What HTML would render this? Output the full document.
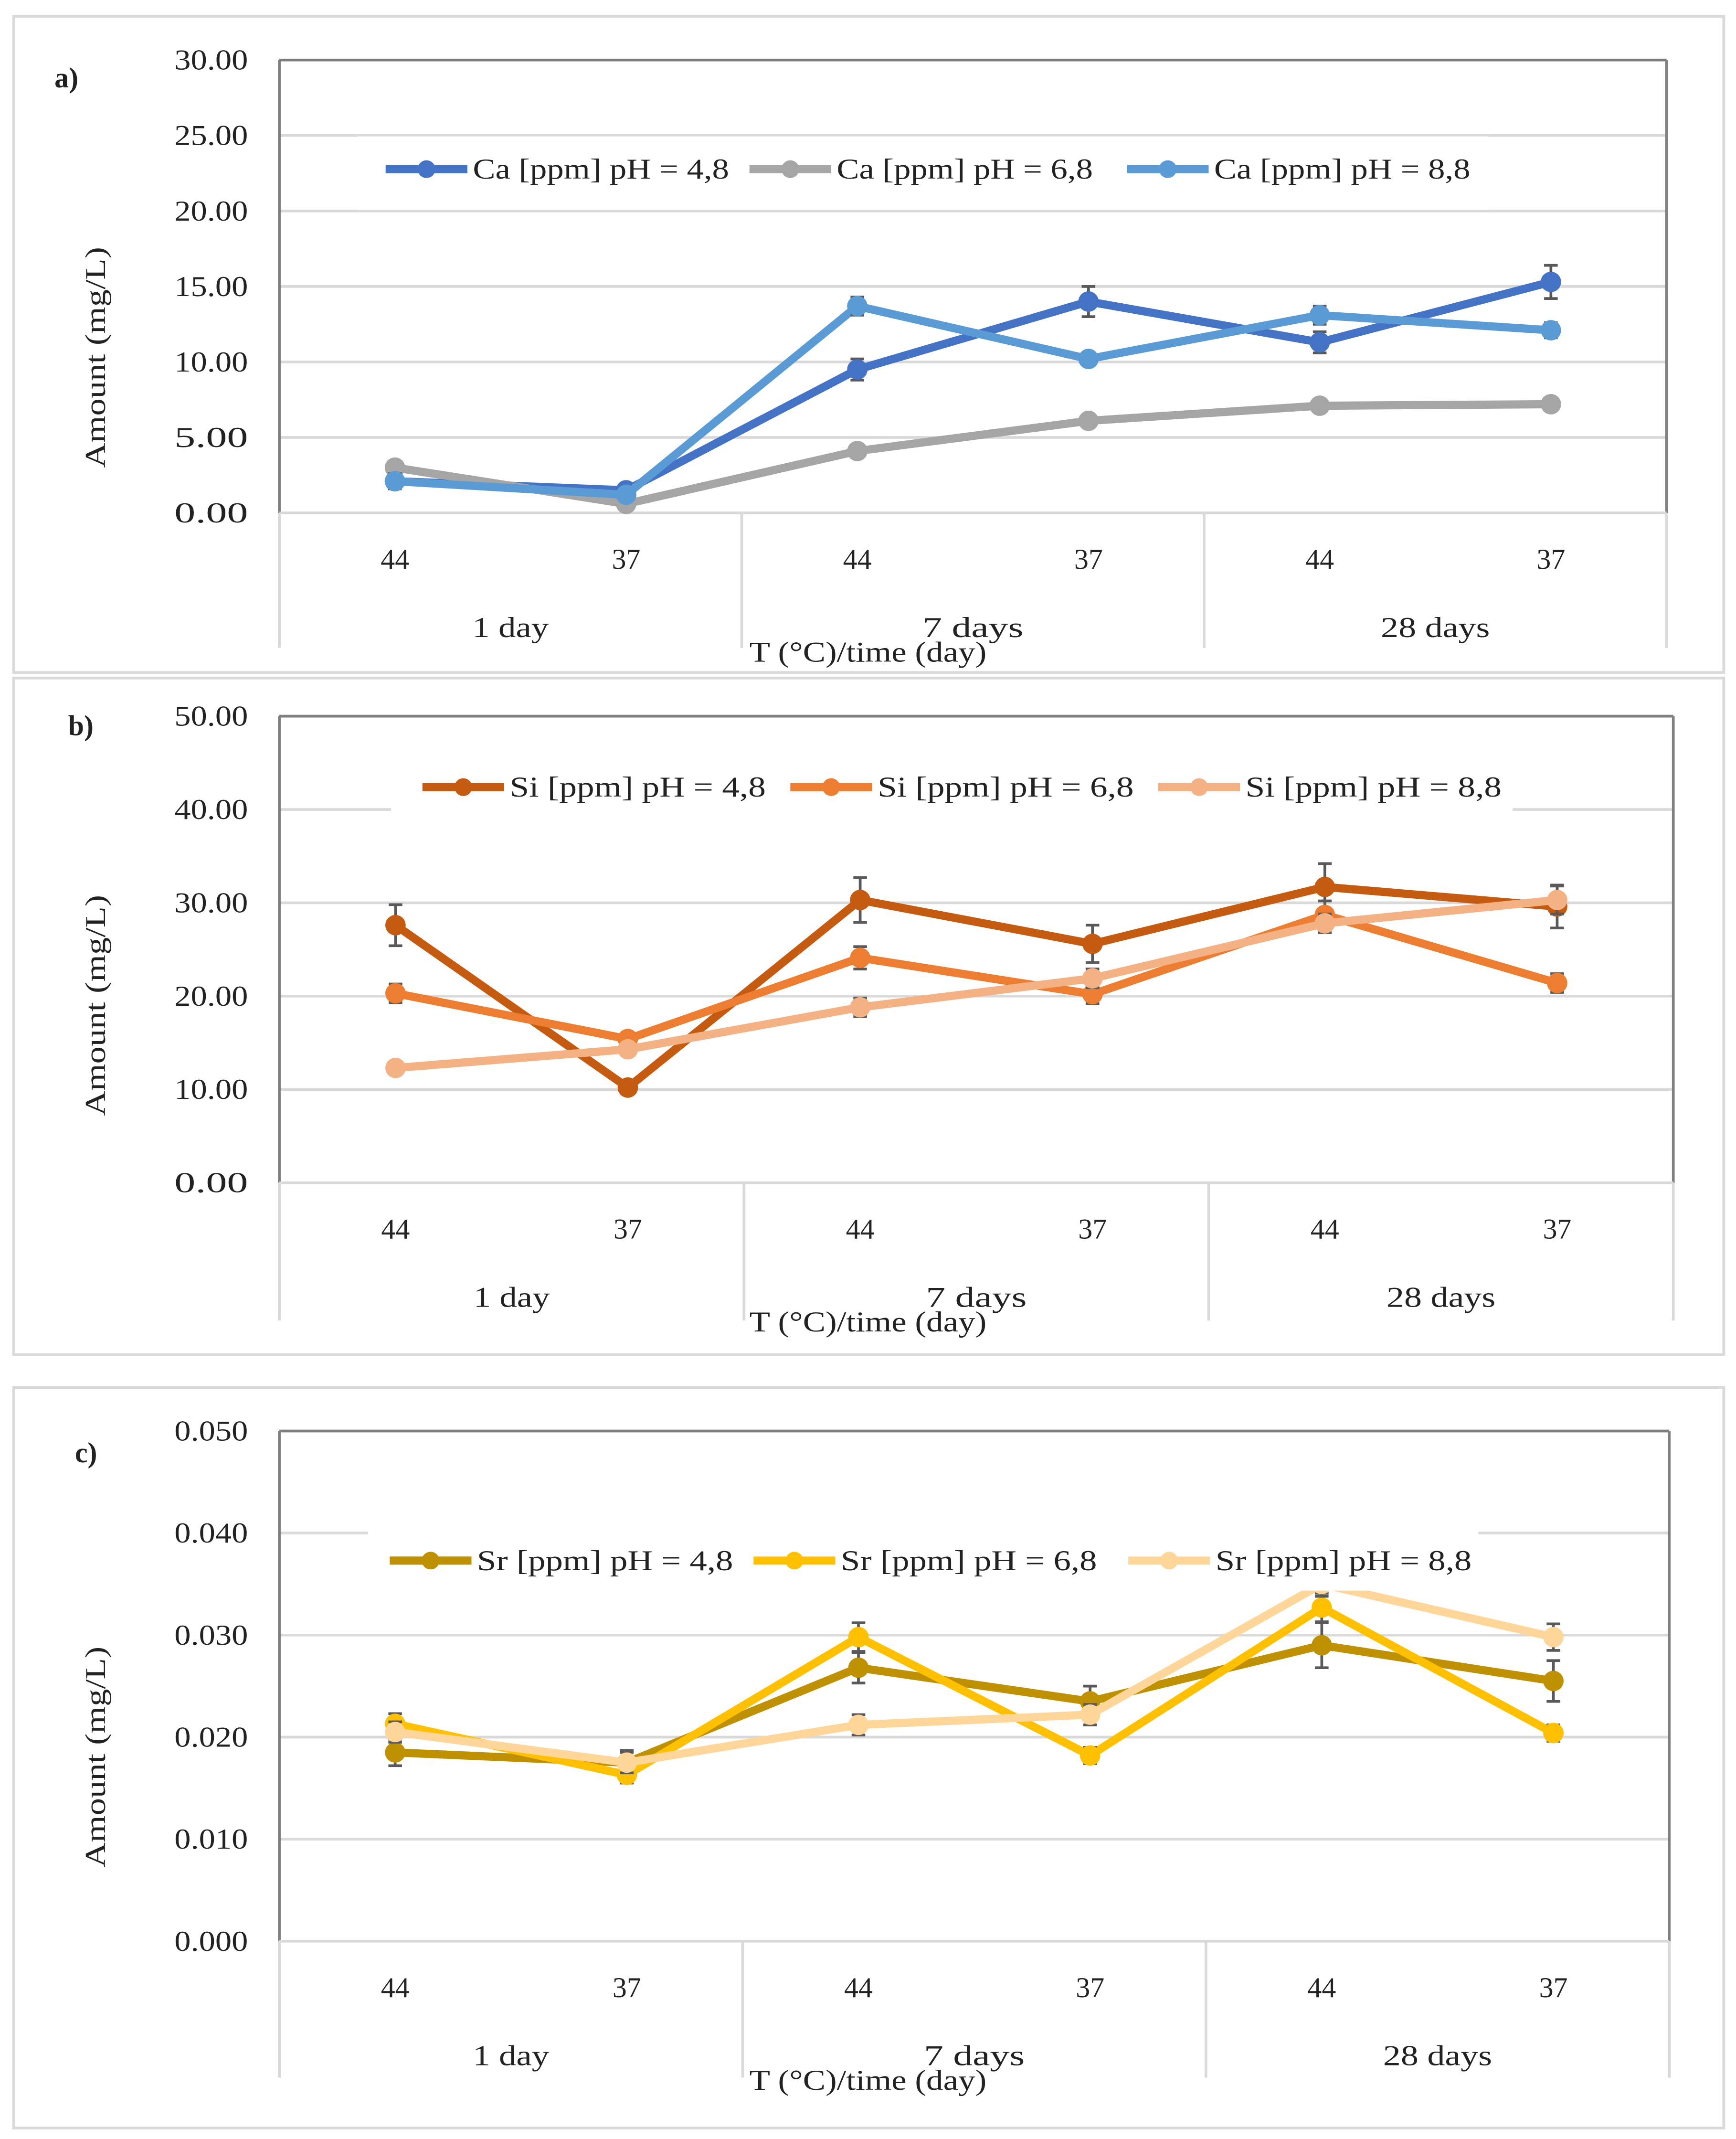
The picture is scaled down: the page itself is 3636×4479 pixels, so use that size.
<!DOCTYPE html>
<html><head><meta charset="utf-8">
<style>html,body{margin:0;padding:0;background:#fff}svg{display:block}text{font-family:"Liberation Serif",serif;fill:#222}</style>
</head><body>
<svg id="s" width="3636" height="4479" viewBox="0 0 1274 1568" preserveAspectRatio="none" xmlns="http://www.w3.org/2000/svg"></svg>
<script>
const catLabels=["44","37","44","37","44","37"];
const groupLabels=["1 day","7 days","28 days"];
const caNames=["Ca [ppm] pH = 4,8","Ca [ppm] pH = 6,8","Ca [ppm] pH = 8,8"];
const ca48=[2.1,1.5,9.5,14.0,11.3,15.3];
const ca48e=[0.5,0.4,0.7,1.0,0.7,1.1];
const ca68=[3.0,0.6,4.1,6.1,7.1,7.2];
const ca68e=[0.2,0.2,0.2,0.2,0.2,0.2];
const ca88=[2.1,1.2,13.7,10.2,13.1,12.1];
const ca88e=[0.5,0.3,0.6,0.4,0.6,0.5];
const caTicks=["0.00","5.00","10.00","15.00","20.00","25.00","30.00"];
const siNames=["Si [ppm] pH = 4,8","Si [ppm] pH = 6,8","Si [ppm] pH = 8,8"];
const si48=[27.6,10.2,30.3,25.6,31.7,29.6];
const si48e=[2.2,0.6,2.4,2.0,2.5,2.3];
const si68=[20.3,15.4,24.1,20.2,28.7,21.4];
const si68e=[1.0,0.6,1.2,1.0,1.5,1.0];
const si88=[12.3,14.3,18.8,21.9,27.8,30.3];
const si88e=[0.5,0.5,1.0,1.0,1.0,1.5];
const siTicks=["0.00","10.00","20.00","30.00","40.00","50.00"];
const srNames=["Sr [ppm] pH = 4,8","Sr [ppm] pH = 6,8","Sr [ppm] pH = 8,8"];
const sr48=[0.0185,0.0175,0.0268,0.0235,0.029,0.0255];
const sr48e=[0.0013,0.0012,0.0015,0.0015,0.0022,0.002];
const sr68=[0.0213,0.0163,0.0298,0.0182,0.0327,0.0204];
const sr68e=[0.001,0.0008,0.0014,0.0008,0.0014,0.0008];
const sr88=[0.0205,0.0175,0.0212,0.0222,0.035,0.0298];
const sr88e=[0.001,0.001,0.001,0.001,0.0012,0.0013];
const srTicks=["0.000","0.010","0.020","0.030","0.040","0.050"];

const NS="http://www.w3.org/2000/svg";
const svg=document.getElementById('s');
function el(tag,attrs,parent,txt){const e=document.createElementNS(NS,tag);for(const k in attrs)e.setAttribute(k,attrs[k]);if(txt!==undefined)e.textContent=txt;(parent||svg).appendChild(e);return e;}

function panel(cfg){
  const g=el('g',{});
  
  
  el('rect',{x:10,y:cfg.by0,width:1255,height:cfg.by1-cfg.by0,fill:'#fff',stroke:'#d9d9d9','stroke-width':2},g);
  const L=205,R=cfg.R,T=cfg.T,B=cfg.B;
  const ymax=cfg.max;
  const ys=v=>B-(v/ymax)*(B-T);
  const xs=i=>L+(R-L)*(i+0.5)/6;
  const nt=cfg.ticks.length;
  for(let i=0;i<nt;i++){
    const v=ymax*i/(nt-1),y=ys(v);
    if(i>0&&i<nt-1){const gl=el('line',{x1:L,x2:R,y1:y,y2:y,stroke:'#d9d9d9','stroke-width':2},g);}
    const t=el('text',{x:182,y:y+7,'text-anchor':'end','font-size':21,textLength:cfg.tw,lengthAdjust:'spacingAndGlyphs'},g,cfg.ticks[i]);
    
  }
  el('line',{x1:L,x2:R,y1:T,y2:T,stroke:'#7f7f7f','stroke-width':2},g);
  el('line',{x1:R,x2:R,y1:T,y2:B,stroke:'#7f7f7f','stroke-width':2},g);
  el('line',{x1:L,x2:L,y1:T,y2:B,stroke:'#7f7f7f','stroke-width':2},g);
  el('line',{x1:L,x2:R,y1:B,y2:B,stroke:'#d9d9d9','stroke-width':2},g);
  for(let k=0;k<4;k++){const x=L+(R-L)*k/3;el('line',{x1:x,x2:x,y1:B,y2:cfg.sepB,stroke:'#d9d9d9','stroke-width':2},g);}
  for(let i=0;i<6;i++){const t=el('text',{x:xs(i),y:B+41,'text-anchor':'middle','font-size':21},g,catLabels[i]);}
  const gw=[56,74,80];
  for(let k=0;k<3;k++){const t=el('text',{x:L+(R-L)*(k+0.5)/3,y:B+91,'text-anchor':'middle','font-size':21,textLength:gw[k],lengthAdjust:'spacingAndGlyphs'},g,groupLabels[k]);}
  const xt=el('text',{x:637,y:B+109,'text-anchor':'middle','font-size':21,textLength:174,lengthAdjust:'spacingAndGlyphs'},g,'T (°C)/time (day)');
  
  const yt=el('text',{x:0,y:0,'text-anchor':'middle','font-size':21,textLength:162,lengthAdjust:'spacingAndGlyphs',transform:`translate(77,${cfg.yc}) rotate(-90)`},g,'Amount (mg/L)');
  
  const pl=el('text',{x:cfg.lx,y:cfg.ly,'font-size':21,'font-weight':'bold'},g,cfg.id+')');
  
  cfg.series.forEach((s,si)=>{
    const sg=el('g',{},g);
    
    
    const pts=s.v.map((v,i)=>xs(i)+','+ys(v)).join(' ');
    el('polyline',{points:pts,fill:'none',stroke:s.c,'stroke-width':6,'stroke-linejoin':'round'},sg);
    s.v.forEach((v,i)=>{
      const x=xs(i),e=s.e[i];
      el('path',{d:`M${x},${ys(v-e)}V${ys(v+e)}M${x-5},${ys(v-e)}H${x+5}M${x-5},${ys(v+e)}H${x+5}`,stroke:'#595959','stroke-width':2,fill:'none'},sg);
      const m=el('circle',{cx:x,cy:ys(v),r:7.5,fill:s.c},sg);
      
    });
  });
  const lg=el('g',{},g);
  
  el('rect',{x:cfg.legX0,y:cfg.legY0,width:cfg.legX1-cfg.legX0,height:cfg.legY1-cfg.legY0,fill:'#fff'},lg);
  cfg.series.forEach((s,si)=>{
    const x0=cfg.legPos[si],y=cfg.legY;
    const en=el('g',{},lg);
    
    el('line',{x1:x0,x2:x0+60,y1:y,y2:y,stroke:s.c,'stroke-width':6},en);
    el('circle',{cx:x0+30,cy:y,r:6.5,fill:s.c},en);
    el('text',{x:x0+64,y:y+7,'font-size':21,textLength:188,lengthAdjust:'spacingAndGlyphs'},en,s.n);
  });
}
panel({id:'a',by0:12,by1:493,R:1223,T:44,B:376,sepB:475,max:30,tw:54,yc:262,ticks:caTicks,lx:40,ly:64,
  series:[{v:ca48,e:ca48e,c:'#4472c4',n:caNames[0]},{v:ca68,e:ca68e,c:'#a5a5a5',n:caNames[1]},{v:ca88,e:ca88e,c:'#5b9bd5',n:caNames[2]}],
  legX0:262,legX1:1092,legY0:100,legY1:154,legY:124,legPos:[283,550,827]});
panel({id:'b',by0:497,by1:993,R:1228,T:525,B:867,sepB:968,max:50,tw:54,yc:737,ticks:siTicks,lx:50,ly:539,
  series:[{v:si48,e:si48e,c:'#c55a11',n:siNames[0]},{v:si68,e:si68e,c:'#ed7d31',n:siNames[1]},{v:si88,e:si88e,c:'#f4b183',n:siNames[2]}],
  legX0:287,legX1:1110,legY0:555,legY1:597,legY:577,legPos:[310,580,850]});
panel({id:'c',by0:1017,by1:1560,R:1225,T:1049,B:1423,sepB:1523,max:0.05,tw:54,yc:1288,ticks:srTicks,lx:55,ly:1072,
  series:[{v:sr48,e:sr48e,c:'#bf9000',n:srNames[0]},{v:sr68,e:sr68e,c:'#ffc000',n:srNames[1]},{v:sr88,e:sr88e,c:'#ffd699',n:srNames[2]}],
  legX0:270,legX1:1085,legY0:1118,legY1:1166,legY:1144,legPos:[286,553,828]});
</script>
</body></html>
